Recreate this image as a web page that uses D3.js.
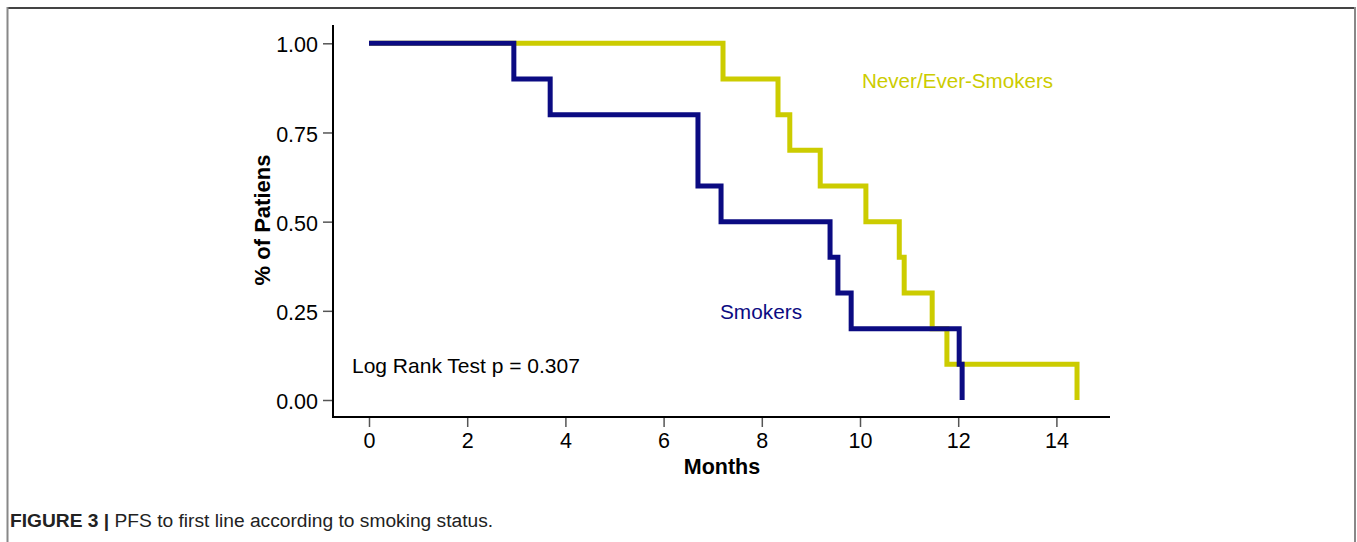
<!DOCTYPE html>
<html>
<head>
<meta charset="utf-8">
<script src="https://cdn.jsdelivr.net/npm/d3@7"></script>
<style>
  html, body { margin: 0; padding: 0; background: #fff; }
  svg { display: block; }
  text { font-family: "Liberation Sans", Arial, sans-serif; }
</style>
</head>
<body>
<svg id="chart" width="1357" height="542"></svg>
<script>
// ---- Data ----
const xTicks = [0, 2, 4, 6, 8, 10, 12, 14];
const yTicks = [0, 0.25, 0.5, 0.75, 1.0];

const smokersTime = [0, 2.95, 3.69, 6.70, 7.17, 9.39, 9.55, 9.82, 12.02, 12.08];
const smokersSurv = [1.0, 0.9, 0.8, 0.6, 0.5, 0.4, 0.3, 0.2, 0.1, 0.0];

const neverTime = [0, 7.21, 8.33, 8.57, 9.19, 10.12, 10.80, 10.90, 11.47, 11.77, 14.42];
const neverSurv = [1.0, 0.9, 0.8, 0.7, 0.6, 0.5, 0.4, 0.3, 0.2, 0.1, 0.0];

const seriesNames = ["Never/Ever-Smokers", "Smokers"];
const xLabel = "Months";
const yLabel = "% of Patiens";
const statText = "Log Rank Test p = 0.307";
const captionBold = "FIGURE 3 | ";
const captionText = "PFS to first line according to smoking status.";

// ---- Layout ----
const svg = d3.select("#chart");
const navy = "#0b0b82";
const yellow = "#cccc00";

const x = d3.scaleLinear().domain([0, 14]).range([369, 1056.4]);
const y = d3.scaleLinear().domain([0, 1]).range([400, 43.3]);

// Frame
svg.append("line").attr("x1", 7.5).attr("x2", 1355.5).attr("y1", 8).attr("y2", 8)
  .attr("stroke", "#444").attr("stroke-width", 2);
svg.append("line").attr("x1", 7.5).attr("x2", 7.5).attr("y1", 7).attr("y2", 542)
  .attr("stroke", "#888").attr("stroke-width", 2);
svg.append("line").attr("x1", 1355).attr("x2", 1355).attr("y1", 7).attr("y2", 542)
  .attr("stroke", "#888").attr("stroke-width", 2);

// Axis lines
const axisLeftX = 333, axisBottomY = 417;
svg.append("line").attr("x1", axisLeftX).attr("x2", axisLeftX)
  .attr("y1", 25).attr("y2", axisBottomY + 1)
  .attr("stroke", "#000").attr("stroke-width", 2);
svg.append("line").attr("x1", axisLeftX - 1).attr("x2", 1110)
  .attr("y1", axisBottomY).attr("y2", axisBottomY)
  .attr("stroke", "#000").attr("stroke-width", 2);

// Y axis ticks
const yAxis = d3.axisLeft(y).tickValues(yTicks).tickFormat(d3.format(".2f")).tickSize(9).tickPadding(5);
const gy = svg.append("g").attr("transform", `translate(${axisLeftX - 1},0)`).call(yAxis);
gy.select(".domain").remove();
gy.selectAll(".tick line").attr("stroke", "#555").attr("stroke-width", 1.5);
gy.selectAll(".tick text").attr("font-size", "21.5px").attr("fill", "#000")
  .attr("font-family", "'Liberation Sans', Arial, sans-serif").attr("dy", "0.4em");

// X axis ticks
const xAxis = d3.axisBottom(x).tickValues(xTicks).tickFormat(d3.format("d")).tickSize(9).tickPadding(6);
const gx = svg.append("g").attr("transform", `translate(0,${axisBottomY + 1})`).call(xAxis);
gx.select(".domain").remove();
gx.selectAll(".tick line").attr("stroke", "#555").attr("stroke-width", 1.5);
gx.selectAll(".tick text").attr("font-size", "21.5px").attr("fill", "#000")
  .attr("font-family", "'Liberation Sans', Arial, sans-serif");

// Axis titles
svg.append("text").attr("x", 722).attr("y", 474).attr("text-anchor", "middle")
  .attr("font-size", "21.5px").attr("font-weight", "bold").text(xLabel);
svg.append("text").attr("transform", "translate(270,220) rotate(-90)")
  .attr("text-anchor", "middle").attr("font-size", "22px").attr("font-weight", "bold").text(yLabel);

// Curves
const line = d3.line().x(d => x(d[0])).y(d => y(d[1])).curve(d3.curveStepAfter);
const neverPts = neverTime.map((t, i) => [t, neverSurv[i]]);
const smokerPts = smokersTime.map((t, i) => [t, smokersSurv[i]]);

svg.append("path").attr("d", line(neverPts)).attr("fill", "none")
  .attr("stroke", yellow).attr("stroke-width", 5).attr("stroke-linejoin", "miter");
svg.append("path").attr("d", line(smokerPts)).attr("fill", "none")
  .attr("stroke", navy).attr("stroke-width", 5).attr("stroke-linejoin", "miter");

// Series labels
svg.append("text").attr("x", 862).attr("y", 88).attr("font-size", "20.6px")
  .attr("fill", yellow).text(seriesNames[0]);
svg.append("text").attr("x", 720).attr("y", 319).attr("font-size", "20.8px")
  .attr("fill", navy).text(seriesNames[1]);

// Stat text
svg.append("text").attr("x", 352).attr("y", 373).attr("font-size", "21px")
  .attr("fill", "#000").text(statText);

// Caption
const cap = svg.append("text").attr("x", 10).attr("y", 527).attr("font-size", "19.2px").attr("fill", "#222");
cap.append("tspan").attr("font-weight", "bold").text(captionBold);
cap.append("tspan").text(captionText);
</script>
</body>
</html>
